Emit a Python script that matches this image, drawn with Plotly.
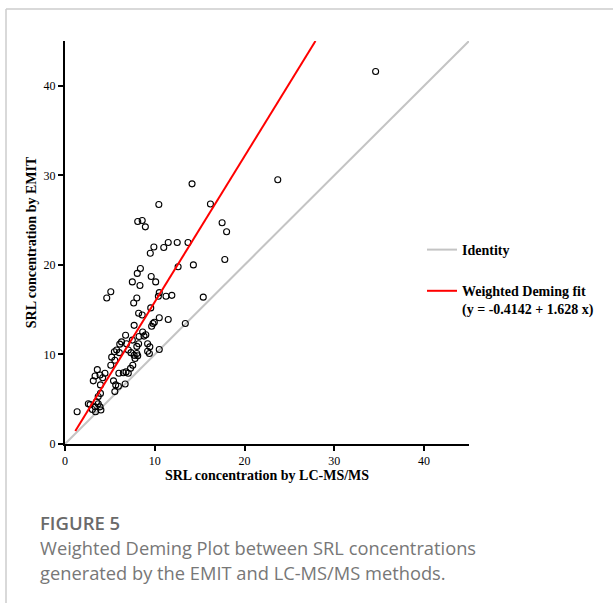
import plotly.graph_objects as go

# Data (SRL concentrations)
lcms = [34.6, 23.7, 14.15, 10.45, 16.2, 8.1, 8.6, 8.95, 17.5, 18.0,
        11.5, 12.5, 13.7, 11.0, 9.9, 9.5, 17.8, 12.6, 14.3, 8.4,
        8.05, 7.5, 8.35, 9.6, 10.1, 5.1, 4.65, 8.0, 7.65, 10.5,
        10.4, 11.25, 11.9, 15.4, 9.55, 8.2, 8.6, 10.5, 11.5, 13.4,
        9.8, 9.65, 9.95, 7.7, 8.65, 9.0, 8.8, 6.75, 8.25, 6.3,
        6.1, 6.85, 7.5, 8.2, 8.0, 9.2, 9.45, 5.75, 5.5, 6.05,
        7.05, 7.35, 7.7, 8.0, 9.2, 9.4, 10.5, 5.2, 5.55, 7.8,
        8.1, 5.1, 7.55, 7.3, 6.0, 6.5, 6.8, 7.05, 5.4, 5.65,
        5.55, 5.95, 6.7, 3.6, 3.9, 3.35, 4.45, 4.2, 3.15, 3.95,
        3.95, 3.7, 2.6, 2.8, 3.5, 3.7, 3.35, 3.9, 3.05, 4.0,
        3.4, 1.35]
emit = [41.6, 29.5, 29.05, 26.75, 26.8, 24.85, 24.95, 24.25, 24.7, 23.7,
        22.5, 22.5, 22.5, 21.95, 22.0, 21.3, 20.6, 19.8, 20.0, 19.6,
        19.05, 18.1, 17.7, 18.7, 18.1, 17.0, 16.3, 16.3, 15.75, 16.9,
        16.5, 16.5, 16.6, 16.4, 15.2, 14.6, 14.4, 14.1, 13.9, 13.45,
        13.45, 13.15, 13.6, 13.25, 12.5, 12.2, 12.05, 12.15, 12.0, 11.4,
        11.15, 11.2, 11.6, 11.2, 10.9, 11.2, 10.85, 10.5, 10.3, 10.2,
        10.5, 10.2, 9.9, 10.1, 10.35, 10.1, 10.55, 9.7, 9.35, 9.55,
        9.85, 8.8, 8.8, 8.45, 7.9, 7.95, 8.05, 7.9, 7.05, 6.6,
        5.85, 6.45, 6.7, 8.3, 7.7, 7.6, 7.9, 7.4, 7.05, 6.6,
        5.65, 5.3, 4.5, 4.4, 4.7, 4.5, 4.15, 4.15, 3.85, 3.8,
        3.6, 3.6]

identity_x = [0, 45]
identity_y = [0, 45]
fit_x = [1.15, 27.9]
fit_y = [1.46, 45.0]

tick_vals = [0, 10, 20, 30, 40]
tick_text = ["0", "10", "20", "30", "40"]

serif = "Liberation Serif"
sans = "Open Sans"

fig = go.Figure()
fig.add_trace(go.Scatter(
    x=identity_x, y=identity_y, mode="lines", name="Identity",
    line=dict(color="#c4c4c4", width=2), legendgroup="a", legendrank=1))
fig.add_trace(go.Scatter(
    x=lcms, y=emit, mode="markers", showlegend=False,
    marker=dict(symbol="circle-open", size=6, color="black",
                line=dict(color="black", width=1.1))))
fig.add_trace(go.Scatter(
    x=fit_x, y=fit_y, mode="lines",
    name="Weighted Deming fit<br>(y = -0.4142 + 1.628 x)",
    line=dict(color="#ff0000", width=2), legendgroup="b", legendrank=2))

L, R, T, B = 65, 469, 41, 444
W, H = 613, 603

def px(x):
    return (x - L) / (R - L)

def py(y):
    return (B - y) / (B - T)

fig.update_layout(
    width=W, height=H,
    margin=dict(l=L, r=W - R, t=T, b=H - B),
    paper_bgcolor="white", plot_bgcolor="white",
    font=dict(family=serif, color="black", size=12),
    showlegend=True,
    legend=dict(x=px(422), y=py(234), xanchor="left", yanchor="top",
                bgcolor="rgba(0,0,0,0)", borderwidth=0,
                font=dict(family=serif, size=14, color="black", weight="bold"),
                tracegroupgap=20, traceorder="grouped", valign="top",
                itemwidth=30),
    xaxis=dict(range=[0, 45], showgrid=False, zeroline=False,
               showline=True, linecolor="black", linewidth=2,
               ticks="outside", ticklen=5, tickwidth=2, tickcolor="black",
               tickvals=tick_vals, ticktext=tick_text,
               tickfont=dict(family=serif, size=12, color="black"),
               title=dict(text="<b>SRL concentration by LC-MS/MS</b>",
                          font=dict(family=serif, size=14, color="black"),
                          standoff=3)),
    yaxis=dict(range=[0, 45], showgrid=False, zeroline=False,
               showline=True, linecolor="black", linewidth=2,
               ticks="outside", ticklen=5, tickwidth=2, tickcolor="black",
               tickvals=tick_vals, ticktext=tick_text,
               tickfont=dict(family=serif, size=12, color="black"),
               title=dict(text="<b>SRL concentration by EMIT</b>",
                          font=dict(family=serif, size=14, color="black"),
                          standoff=4)),
)

# Frame lines of the figure panel
fig.add_shape(type="line", xref="paper", yref="paper",
              x0=px(6), x1=px(613), y0=py(9), y1=py(9),
              line=dict(color="#cccccc", width=1.5))
fig.add_shape(type="line", xref="paper", yref="paper",
              x0=px(6), x1=px(6), y0=py(9), y1=py(610),
              line=dict(color="#cccccc", width=1.5))

# Caption
fig.add_annotation(xref="paper", yref="paper", x=px(38), y=py(522),
                   xanchor="left", yanchor="middle", showarrow=False,
                   text="FIGURE 5",
                   font=dict(family=sans, size=18.5, color="#6a6a6a", weight=600))
fig.add_annotation(xref="paper", yref="paper", x=px(38), y=py(547),
                   xanchor="left", yanchor="middle", showarrow=False,
                   text="Weighted Deming Plot between SRL concentrations",
                   font=dict(family=sans, size=18.3, color="#777777"))
fig.add_annotation(xref="paper", yref="paper", x=px(38), y=py(572),
                   xanchor="left", yanchor="middle", showarrow=False,
                   text="generated by the EMIT and LC-MS/MS methods.",
                   font=dict(family=sans, size=18.3, color="#777777"))

fig.write_html("out.html")
